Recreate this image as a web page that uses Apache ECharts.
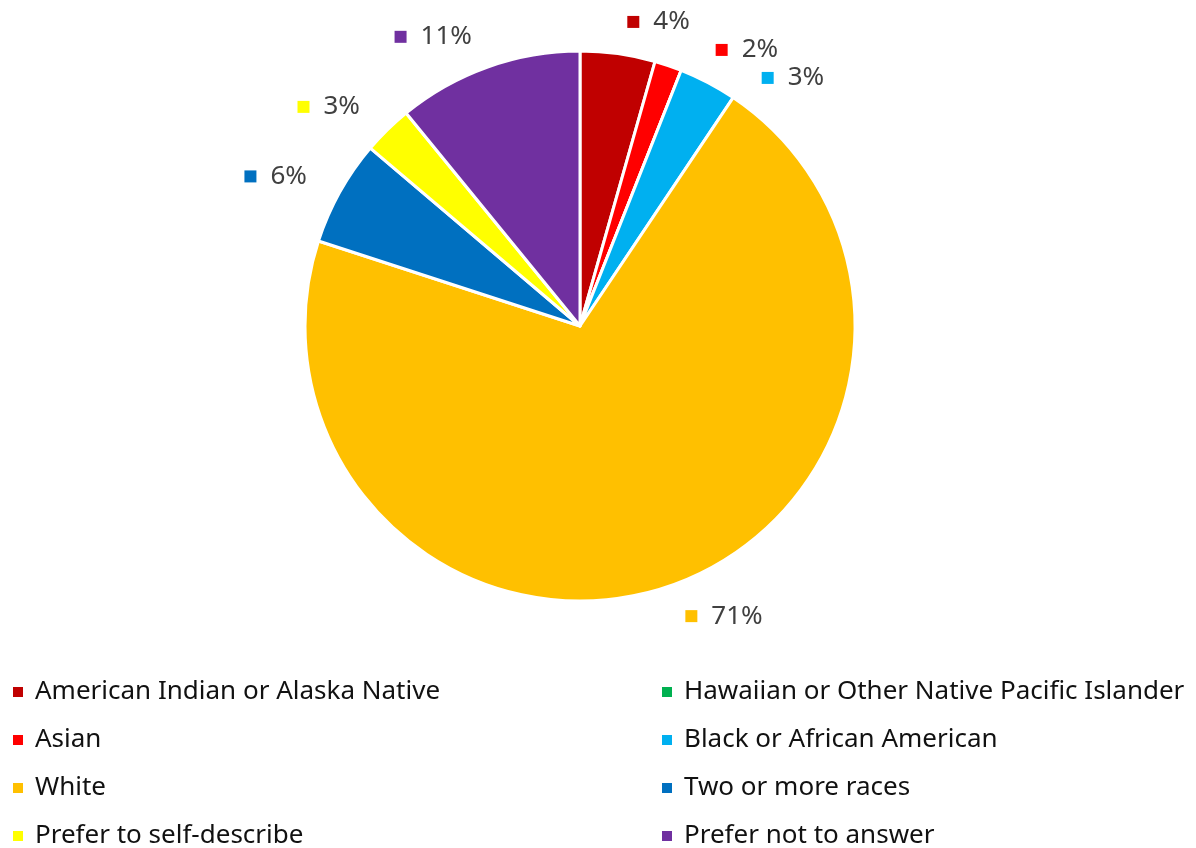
<!DOCTYPE html>
<html>
<head>
<meta charset="utf-8">
<script src="https://cdn.jsdelivr.net/npm/echarts@6/dist/echarts.min.js"></script>
<style>
html,body{margin:0;padding:0;background:#fff;}
#chart{width:1196px;height:848px;}
</style>
</head>
<body>
<div id="chart"></div>
<script>
var categories = [
  'American Indian or Alaska Native',
  'Asian',
  'Hawaiian or Other Native Pacific Islander',
  'Black or African American',
  'White',
  'Two or more races',
  'Prefer to self-describe',
  'Prefer not to answer'
];
var values = [4.4, 1.6, 0, 3.4, 70.6, 6.2, 2.9, 10.9];
var colors = ['#C00000', '#FF0000', '#00B050', '#00B0F0', '#FFC000', '#0070C0', '#FFFF00', '#7030A0'];
var legendLeft = ['American Indian or Alaska Native', 'Asian', 'White', 'Prefer to self-describe'];
var legendRight = ['Hawaiian or Other Native Pacific Islander', 'Black or African American', 'Two or more races', 'Prefer not to answer'];

var FONT = 'Noto Sans';
var data = categories.map(function (name, i) {
  return {
    name: name,
    value: values[i],
    itemStyle: { color: colors[i] },
    label: {
      show: values[i] > 0,
      rich: {
        m: { width: 12, height: 12, backgroundColor: colors[i] },
        t: { fontSize: 26, color: '#404040', fontFamily: FONT, padding: [0, 0, 0, 14] }
      }
    }
  };
});

var chart = echarts.init(document.getElementById('chart'), null, { renderer: 'canvas' });
var legendCommon = {
  orient: 'vertical',
  icon: 'rect',
  itemWidth: 12,
  itemHeight: 12,
  itemGap: 22,
  top: 674,
  height: 200,
  textStyle: { fontSize: 26, color: '#111', fontFamily: FONT, padding: [0, 0, 0, 6] },
  selectedMode: false
};
chart.setOption({
  animation: false,
  color: colors,
  legend: [
    Object.assign({}, legendCommon, { left: 6, data: legendLeft }),
    Object.assign({}, legendCommon, { left: 655, data: legendRight })
  ],
  series: [{
    type: 'pie',
    center: [580, 326],
    radius: 275,
    startAngle: 90,
    clockwise: true,
    avoidLabelOverlap: true,
    itemStyle: { borderColor: '#fff', borderWidth: 3 },
    label: {
      position: 'outside',
      formatter: function (p) { return '{m|}{t|' + Math.round(p.percent) + '%}'; },
      fontFamily: FONT
    },
    labelLine: { show: false, length: 32, length2: 0 },
    emphasis: { disabled: true },
    data: data
  }]
});
</script>
</body>
</html>
